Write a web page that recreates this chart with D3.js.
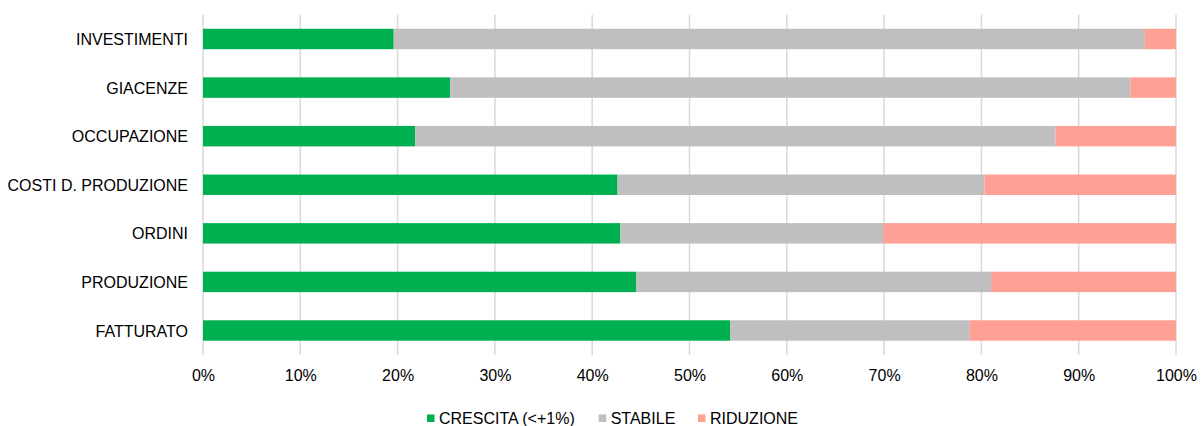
<!DOCTYPE html>
<html><head><meta charset="utf-8">
<script src="https://cdn.jsdelivr.net/npm/d3@7"></script>
<style>body{margin:0;background:#fff}svg{display:block;font-family:"Liberation Sans",Arial,sans-serif}</style>
</head><body><svg id="c" width="1203" height="426"></svg>
<script>
const categories = ["INVESTIMENTI","GIACENZE","OCCUPAZIONE","COSTI D. PRODUZIONE","ORDINI","PRODUZIONE","FATTURATO"];
const crescita = [19.6, 25.4, 21.8, 42.6, 42.9, 44.5, 54.2];
const stabile  = [77.2, 69.9, 65.8, 37.7, 27.0, 36.5, 24.6];
const riduzione= [ 3.2,  4.7, 12.4, 19.7, 30.1, 19.0, 21.2];
const seriesNames = ["CRESCITA (<+1%)","STABILE","RIDUZIONE"];
const colors = ["#00b050","#bfbfbf","#ffa095"];
const xTicks = [0,10,20,30,40,50,60,70,80,90,100];

const svg = d3.select("#c");
const x = d3.scaleLinear().domain([0,100]).range([203,1176]);
const y = d3.scaleBand().domain(categories).range([14.7,354.8]).paddingInner(0.6).paddingOuter(0.3);
const FS = "16px";

// gridlines
svg.append("g").selectAll("line").data(xTicks).join("line")
  .attr("x1",d=>x(d)).attr("x2",d=>x(d)).attr("y1",14.7).attr("y2",355)
  .attr("stroke","#d9d9d9").attr("stroke-width",1.5);

const rows = categories.map((c,i)=>({cat:c, vals:[crescita[i],stabile[i],riduzione[i]]}));
const stack = d3.stack().keys([0,1,2]).value((d,k)=>d.vals[k]);
const stacked = stack(rows);
svg.append("g").selectAll("g").data(stacked).join("g").attr("fill",(d,i)=>colors[i])
  .selectAll("rect").data(d=>d).join("rect")
  .attr("x",d=>x(d[0])).attr("width",d=>x(d[1])-x(d[0]))
  .attr("y",d=>y(d.data.cat)-0.5).attr("height",y.bandwidth()+1);

// x axis labels
const xa = d3.axisBottom(x).tickValues(xTicks).tickFormat(d=>d+"%").tickSize(0).tickPadding(0);
const gx = svg.append("g").attr("transform","translate(0,370)").call(xa);
gx.select(".domain").remove();
gx.selectAll("text").attr("font-size",FS).attr("fill","#000").attr("font-family","Liberation Sans, Arial, sans-serif").attr("dy","0.71em");

// y labels
const ya = d3.axisLeft(y).tickSize(0).tickPadding(0);
const gy = svg.append("g").attr("transform","translate(188,1)").call(ya);
gy.select(".domain").remove();
gy.selectAll("text").attr("font-size",FS).attr("fill","#000").attr("font-family","Liberation Sans, Arial, sans-serif");

// legend
const legX = [427, 598.7, 698];
const lg = svg.append("g");
seriesNames.forEach((n,i)=>{
  lg.append("rect").attr("x",legX[i]).attr("y",414.5).attr("width",7.5).attr("height",7.5).attr("fill",colors[i]);
  lg.append("text").attr("x",legX[i]+12).attr("y",423.5).attr("font-size",FS).attr("fill","#000").text(n);
});
</script></body></html>
